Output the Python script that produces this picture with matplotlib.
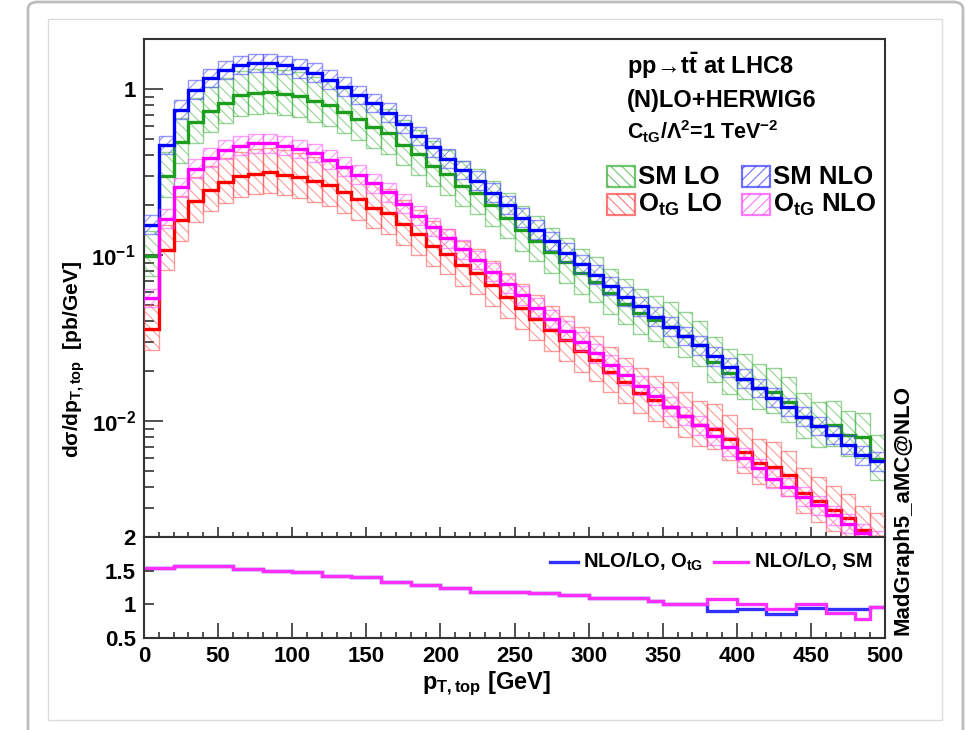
import numpy as np
import matplotlib.pyplot as plt
from matplotlib.patches import Rectangle, FancyBboxPatch
from matplotlib.lines import Line2D
from matplotlib.ticker import FixedLocator, MultipleLocator, LogLocator, NullFormatter

plt.rcParams['font.family'] = ['Liberation Sans', 'DejaVu Sans']
plt.rcParams['font.weight'] = 'bold'
plt.rcParams['mathtext.fontset'] = 'custom'
plt.rcParams['mathtext.rm'] = 'Liberation Sans:bold'
plt.rcParams['mathtext.it'] = 'Liberation Sans:bold'
plt.rcParams['mathtext.sf'] = 'Liberation Sans:bold'
plt.rcParams['mathtext.bf'] = 'Liberation Sans:bold'
plt.rcParams['hatch.linewidth'] = 0.8

# 10 GeV bins in top pT, 0..500 GeV
bin_edges = np.arange(0, 510, 10)

# differential cross sections [pb/GeV], central scale
sm_lo = [0.099, 0.300, 0.478, 0.630, 0.739, 0.828, 0.914, 0.941, 0.960, 0.933,
         0.902, 0.847, 0.803, 0.725, 0.657, 0.586, 0.541, 0.462, 0.403, 0.345,
         0.306, 0.262, 0.235, 0.199, 0.168, 0.141, 0.122, 0.104, 0.0907, 0.0775,
         0.0691, 0.0591, 0.0509, 0.0445, 0.0405, 0.0370, 0.0325, 0.0285, 0.0228, 0.0195,
         0.0180, 0.0158, 0.0149, 0.0131, 0.0106, 0.0093, 0.0094, 0.0082, 0.0080, 0.0059]
sm_nlo = [0.152, 0.460, 0.750, 0.990, 1.160, 1.300, 1.390, 1.430, 1.430, 1.390,
          1.330, 1.250, 1.140, 1.030, 0.920, 0.820, 0.720, 0.615, 0.520, 0.445,
          0.380, 0.325, 0.280, 0.237, 0.200, 0.168, 0.142, 0.121, 0.103, 0.088,
          0.076, 0.065, 0.056, 0.049, 0.0425, 0.0370, 0.0325, 0.0285, 0.0245, 0.0210,
          0.0180, 0.0158, 0.0138, 0.0121, 0.0106, 0.0093, 0.0082, 0.0072, 0.0062, 0.0057]
otg_lo = [0.0358, 0.1075, 0.162, 0.210, 0.245, 0.274, 0.299, 0.309, 0.315, 0.305,
          0.295, 0.278, 0.264, 0.239, 0.218, 0.193, 0.179, 0.153, 0.133, 0.114,
          0.102, 0.087, 0.078, 0.066, 0.056, 0.048, 0.041, 0.0352, 0.0308, 0.0264,
          0.0232, 0.0198, 0.0171, 0.0148, 0.0134, 0.0122, 0.0107, 0.0094, 0.0090, 0.0078,
          0.0065, 0.0056, 0.0053, 0.0047, 0.0037, 0.0033, 0.0029, 0.0026, 0.0022, 0.0020]
otg_nlo = [0.055, 0.165, 0.255, 0.330, 0.385, 0.430, 0.455, 0.470, 0.470, 0.455,
           0.435, 0.410, 0.375, 0.340, 0.305, 0.270, 0.238, 0.203, 0.172, 0.147,
           0.126, 0.108, 0.093, 0.079, 0.067, 0.057, 0.048, 0.041, 0.035, 0.030,
           0.0255, 0.0218, 0.0188, 0.0163, 0.0141, 0.0122, 0.0107, 0.0094, 0.0081, 0.0070,
           0.0060, 0.0052, 0.0045, 0.0040, 0.0035, 0.0031, 0.0027, 0.0024, 0.0021, 0.0019]

# K-factors shown in the lower pad
ratio_otg = [1.535, 1.535, 1.57, 1.57, 1.57, 1.57, 1.52, 1.52, 1.49, 1.49,
             1.475, 1.475, 1.42, 1.42, 1.40, 1.40, 1.33, 1.33, 1.29, 1.29,
             1.24, 1.24, 1.19, 1.19, 1.19, 1.19, 1.165, 1.165, 1.135, 1.135,
             1.10, 1.10, 1.10, 1.10, 1.05, 1.00, 1.00, 1.00, 0.90, 0.90,
             0.925, 0.925, 0.85, 0.85, 0.95, 0.95, 0.925, 0.925, 0.935, 0.965]
ratio_sm = [1.535, 1.535, 1.57, 1.57, 1.57, 1.57, 1.52, 1.52, 1.49, 1.49,
            1.475, 1.475, 1.42, 1.42, 1.40, 1.40, 1.33, 1.33, 1.29, 1.29,
            1.24, 1.24, 1.19, 1.19, 1.19, 1.19, 1.165, 1.165, 1.135, 1.135,
            1.10, 1.10, 1.10, 1.10, 1.05, 1.00, 1.00, 1.00, 1.075, 1.075,
            1.00, 1.00, 0.925, 0.925, 1.00, 1.00, 0.875, 0.875, 0.775, 0.965]

# relative scale-variation envelopes (up, down)
lo_scale = (0.40, 0.25)
nlo_scale = (0.14, 0.12)

W, H = 965, 730
fig = plt.figure(figsize=(W / 100, H / 100), dpi=100)


def fx(px):
    return px / W


def fy(py):
    return 1 - py / H


# card outline around the canvas
fig.patches.append(FancyBboxPatch((fx(28), fy(745)), fx(963) - fx(28), fy(2) - fy(745),
                                  boxstyle='round,pad=0,rounding_size=0.01',
                                  transform=fig.transFigure, fill=False,
                                  edgecolor='#bdbdbd', linewidth=2.0))
fig.patches.append(Rectangle((fx(48), fy(720)), fx(942) - fx(48), fy(19) - fy(720),
                             transform=fig.transFigure, fill=False,
                             edgecolor='#dcdcdc', linewidth=1.0))

ax1 = fig.add_axes([fx(144), fy(537), fx(885) - fx(144), fy(39) - fy(537)])
ax2 = fig.add_axes([fx(144), fy(638), fx(885) - fx(144), fy(537) - fy(638)])

lefts = bin_edges[:-1]


def draw_band(ax, central, scale, line_col, band_col, hatch, z):
    c = np.array(central)
    up = c * (1 + scale[0])
    dn = c * (1 - scale[1])
    ax.bar(lefts, up - dn, width=10, bottom=dn, align='edge', facecolor='none',
           edgecolor=band_col, hatch=hatch, linewidth=1.0, zorder=z)
    ax.stairs(c, bin_edges, baseline=None, color=line_col, linewidth=2.4, zorder=z + 0.5)


green = '#1e9e1e'
green_l = (0.25, 0.70, 0.25, 0.55)
blue = '#0000ff'
blue_l = (0.25, 0.25, 1.0, 0.55)
red = '#ff0000'
red_l = (1.0, 0.3, 0.3, 0.55)
mag = '#ff00ff'
mag_l = (1.0, 0.3, 1.0, 0.55)

draw_band(ax1, sm_lo, lo_scale, green, green_l, '\\\\\\', 2)
draw_band(ax1, otg_lo, lo_scale, red, red_l, '\\\\\\', 3)
draw_band(ax1, sm_nlo, nlo_scale, blue, blue_l, '///', 4)
draw_band(ax1, otg_nlo, nlo_scale, mag, mag_l, '///', 5)

ax1.set_yscale('log')
ax1.set_ylim(2e-3, 2.0)
ax1.set_xlim(0, 500)
ax1.yaxis.set_major_locator(FixedLocator([1e-2, 1e-1, 1]))
ax1.set_yticklabels(['$10^{-2}$', '$10^{-1}$', '1'])
ax1.yaxis.set_minor_locator(LogLocator(base=10, subs=np.arange(2, 10)))
ax1.yaxis.set_minor_formatter(NullFormatter())
ax1.xaxis.set_major_locator(MultipleLocator(50))
ax1.xaxis.set_minor_locator(MultipleLocator(10))
ax1.tick_params(axis='x', labelbottom=False)
ax1.tick_params(axis='x', which='major', length=7.5)
ax1.tick_params(axis='x', which='minor', length=3.8)
ax1.tick_params(axis='y', which='major', length=14)
ax1.tick_params(axis='y', which='minor', length=7)

ax2.stairs(ratio_otg, bin_edges, baseline=None, color='#3030ff', linewidth=2.4)
ax2.stairs(ratio_sm, bin_edges, baseline=None, color='#ff30ff', linewidth=2.4)
ax2.set_xlim(0, 500)
ax2.set_ylim(0.5, 2.0)
ax2.yaxis.set_major_locator(FixedLocator([0.5, 1.0, 1.5, 2.0]))
ax2.set_yticklabels(['0.5', '1', '1.5', '2'])
ax2.yaxis.set_minor_locator(MultipleLocator(0.1))
ax2.xaxis.set_major_locator(MultipleLocator(50))
ax2.xaxis.set_minor_locator(MultipleLocator(10))
ax2.tick_params(axis='x', which='major', length=10.5)
ax2.tick_params(axis='x', which='minor', length=4.5)
ax2.tick_params(axis='y', which='major', length=7)
ax2.tick_params(axis='y', which='minor', length=0)

for ax in (ax1, ax2):
    ax.tick_params(which='both', direction='in', top=False, right=False,
                   width=1.2, color='#333333', labelsize=16, pad=6)
    for s in ax.spines.values():
        s.set_linewidth(1.5)
        s.set_color('#333333')

# axis titles
fig.text(fx(74), fy(360), r'd$\sigma$/dp$_{T,top}$  [pb/GeV]', rotation=90,
         ha='center', va='center', fontsize=15)
fig.text(fx(486), fy(684), r'p$_{T,top}$ [GeV]', ha='center', va='center', fontsize=17)
fig.text(fx(903), fy(510), 'MadGraph5_aMC@NLO', rotation=90, ha='center', va='center',
         fontsize=16)

# process info
fig.text(fx(627), fy(66), r'pp$\!\rightarrow\!$t$\bar{t}$ at LHC8', ha='left',
         va='center', fontsize=17)
fig.text(fx(627), fy(100), '(N)LO+HERWIG6', ha='left', va='center', fontsize=17)
fig.text(fx(627), fy(132), r'C$_{tG}$/$\Lambda^{2}$=1 TeV$^{-2}$', ha='left',
         va='center', fontsize=15.5)


def legend_box(x0, yc, band_col, hatch, label):
    fig.patches.append(Rectangle((fx(x0), fy(yc + 10)), fx(28), 21 / H,
                                 transform=fig.transFigure, facecolor='none',
                                 edgecolor=band_col, hatch=hatch, linewidth=1.6))
    fig.text(fx(x0 + 31), fy(yc), label, ha='left', va='center', fontsize=18.5)


legend_box(607, 177, (0.25, 0.70, 0.25, 0.75), '\\\\\\', 'SM LO')
legend_box(742, 177, (0.25, 0.25, 1.0, 0.75), '///', 'SM NLO')
legend_box(607, 205, (1.0, 0.3, 0.3, 0.75), '\\\\\\', r'O$_{tG}$ LO')
legend_box(742, 205, (1.0, 0.3, 1.0, 0.75), '///', r'O$_{tG}$ NLO')

# ratio pad legend
fig.lines.append(Line2D([fx(550), fx(578)], [fy(562), fy(562)], transform=fig.transFigure,
                        color='#3030ff', linewidth=2.4))
fig.text(fx(583), fy(562), r'NLO/LO, O$_{tG}$', ha='left', va='center', fontsize=14.5)
fig.lines.append(Line2D([fx(714), fx(748)], [fy(562), fy(562)], transform=fig.transFigure,
                        color='#ff30ff', linewidth=2.4))
fig.text(fx(755), fy(562), 'NLO/LO, SM', ha='left', va='center', fontsize=14.5)

fig.savefig('out.png', dpi=100)
